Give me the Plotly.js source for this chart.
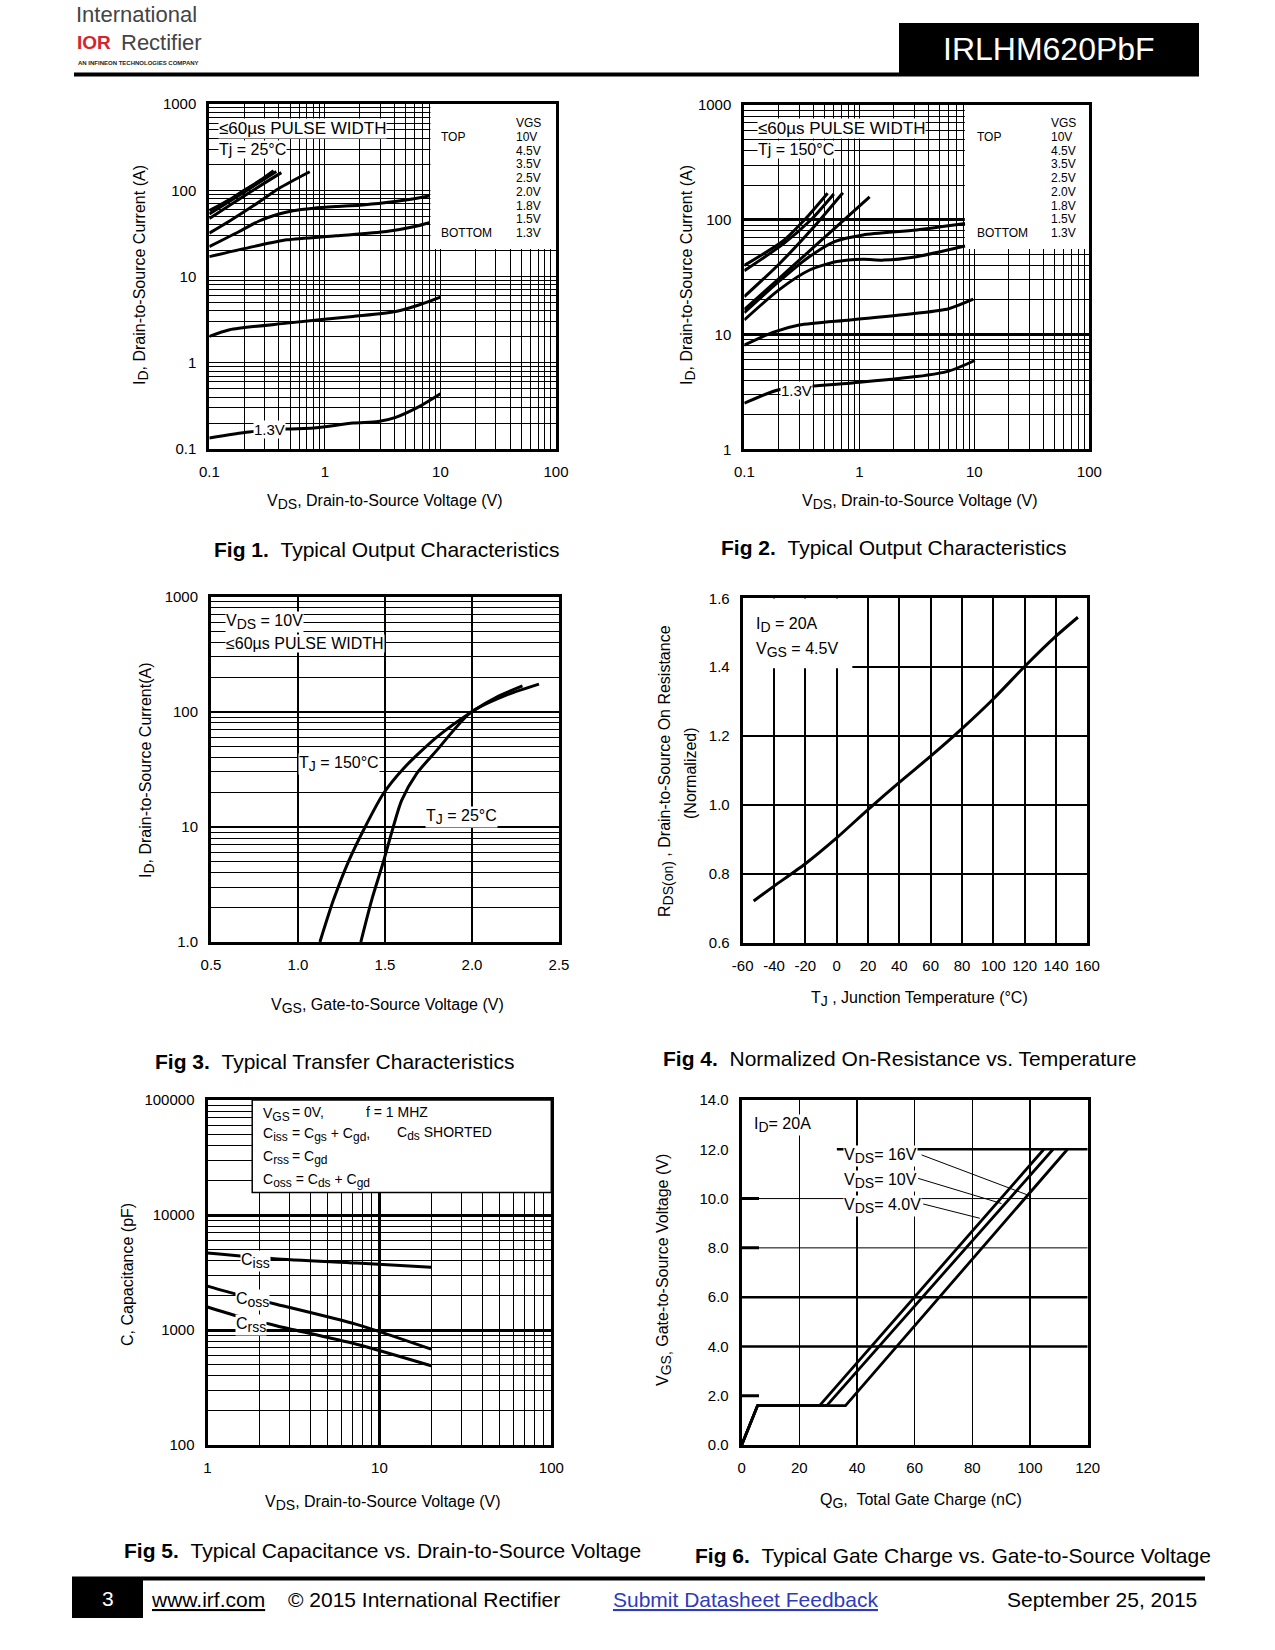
<!DOCTYPE html>
<html><head><meta charset="utf-8">
<script src="https://cdn.plot.ly/plotly-3.0.1.min.js"></script>
<style>html,body{margin:0;padding:0;background:#fff}#chart{width:1275px;height:1650px}</style>
</head><body><div id="chart"></div><script>
// ---------------- DATA ----------------
// Fig 1  Typical Output Characteristics, Tj = 25°C
const fig1_vds_10v = [0.1,0.15,0.2,0.28,0.36];
const fig1_id_10v  = [58,78,100,132,168];
const fig1_vds_4v5 = [0.1,0.2,0.38];
const fig1_id_4v5  = [53,95,165];
const fig1_vds_3v5 = [0.1,0.2,0.42];
const fig1_id_3v5  = [47,86,160];
const fig1_vds_2v5 = [0.1,0.15,0.24,0.4,0.74];
const fig1_id_2v5  = [31.8,44,66,105,164];
const fig1_vds_2v0 = [0.1,0.18,0.27,0.4,0.53,0.8,1.25,2,3.4,5,8];
const fig1_id_2v0  = [22.2,33,44,53,58,62,64.7,67,72,77,86];
const fig1_vds_1v8 = [0.1,0.24,0.47,1.25,3.4,6,8];
const fig1_id_1v8  = [17,22.2,26.6,29.6,33.2,38,42];
const fig1_vds_1v5 = [0.1,0.15,0.47,1.75,4.1,6.6,10];
const fig1_id_1v5  = [2.02,2.41,2.88,3.44,3.93,4.7,5.77];
const fig1_vds_1v3 = [0.1,0.22,0.47,0.8,1.75,2.9,4.1,6.6,10];
const fig1_id_1v3  = [0.134,0.157,0.17,0.175,0.2,0.208,0.233,0.312,0.437];
// Fig 2  Typical Output Characteristics, Tj = 150°C
const fig2_vds_10v = [0.1,0.22,0.35,0.53];
const fig2_id_10v  = [40,66,105,170];
const fig2_vds_4v5 = [0.1,0.22,0.38,0.6];
const fig2_id_4v5  = [36,62,100,168];
const fig2_vds_3v5 = [0.1,0.2,0.4,0.72];
const fig2_id_3v5  = [21.4,41,86,172];
const fig2_vds_2v5 = [0.1,0.2,0.35,0.6,1.23];
const fig2_id_2v5  = [16.5,30.7,51,83,158];
const fig2_vds_2v0 = [0.1,0.2,0.35,0.61,1.08,3.15,8.3];
const fig2_id_2v0  = [15.5,29,46,64.6,73.8,81.5,92.7];
const fig2_vds_1v8 = [0.1,0.2,0.37,0.64,1.08,1.62,3.15,8.3];
const fig2_id_1v8  = [13.4,24.5,36.5,43.3,45.3,44.5,47.7,59];
const fig2_vds_1v5 = [0.1,0.18,0.3,0.83,3.15,6,9.8];
const fig2_id_1v5  = [8.1,10.5,12.1,13.4,15.3,16.8,20.3];
const fig2_vds_1v3 = [0.1,0.2,0.83,3.15,6,10.1];
const fig2_id_1v3  = [2.52,3.3,3.77,4.3,4.8,5.94];
// Legend of Fig 1 / Fig 2
const vgs_legend = ['10V','4.5V','3.5V','2.5V','2.0V','1.8V','1.5V','1.3V'];
// Fig 3  Typical Transfer Characteristics
const fig3_vgs_150 = [1.126,1.203,1.29,1.385,1.49,1.604,1.796,1.993,2.15,2.29];
const fig3_id_150  = [1,2.3,5.0,9.94,19.4,31.9,60,98.8,136,168];
const fig3_vgs_25  = [1.361,1.423,1.49,1.547,1.595,1.681,1.796,1.993,2.2,2.385];
const fig3_id_25   = [1,2.3,4.94,9.94,16.9,28.9,46,98.8,140,174];
// Fig 4  Normalized On-Resistance vs. Temperature
const fig4_tj   = [-53,-40,-20,0,20,40,60,80,100,120,140,154];
const fig4_rdson= [0.722,0.765,0.83,0.905,0.987,1.066,1.142,1.222,1.308,1.402,1.49,1.545];
// Fig 5  Typical Capacitance vs. VDS
const fig5_vds_ciss = [1,2.43,7.36,20];
const fig5_ciss     = [4670,4170,3820,3510];
const fig5_vds_coss = [1,1.49,2.54,7.36,20];
const fig5_coss     = [2405,2036,1669,1119,681];
const fig5_vds_crss = [1,1.49,2.54,7.36,20];
const fig5_crss     = [1585,1324,1085,752,489];
// Fig 6  Typical Gate Charge vs. VGS
const fig6_qg_4v  = [0,5.5,27,104.8];
const fig6_vgs_4v = [0,1.6,1.6,12];
const fig6_qg_10v = [0,5.5,29.5,108];
const fig6_vgs_10v= [0,1.6,1.6,12];
const fig6_qg_16v = [0,5.5,36,113];
const fig6_vgs_16v= [0,1.6,1.6,12];
// Tick labels
const ticks_vds_log   = [0.1,1,10,100];
const ticks_vds_txt   = ['0.1','1','10','100'];
const ticks_id1       = [0.1,1,10,100,1000];
const ticks_id1_txt   = ['0.1','1','10','100','1000'];
const ticks_id2       = [1,10,100,1000];
const ticks_id2_txt   = ['1','10','100','1000'];
const ticks_vgs3      = [0.5,1.0,1.5,2.0,2.5];
const ticks_vgs3_txt  = ['0.5','1.0','1.5','2.0','2.5'];
const ticks_id3       = [1,10,100,1000];
const ticks_id3_txt   = ['1.0','10','100','1000'];
const ticks_tj        = [-60,-40,-20,0,20,40,60,80,100,120,140,160];
const ticks_tj_txt    = ['-60','-40','-20','0','20','40','60','80','100','120','140','160'];
const ticks_r         = [0.6,0.8,1.0,1.2,1.4,1.6];
const ticks_r_txt     = ['0.6','0.8','1.0','1.2','1.4','1.6'];
const ticks_vds5      = [1,10,100];
const ticks_vds5_txt  = ['1','10','100'];
const ticks_c         = [100,1000,10000,100000];
const ticks_c_txt     = ['100','1000','10000','100000'];
const ticks_qg        = [0,20,40,60,80,100,120];
const ticks_qg_txt    = ['0','20','40','60','80','100','120'];
const ticks_v6        = [0,2,4,6,8,10,12,14];
const ticks_v6_txt    = ['0.0','2.0','4.0','6.0','8.0','10.0','12.0','14.0'];

// ---------------- HELPERS ----------------
const W=1275, H=1650;
const px = x => x/W, py = y => 1 - y/H;
const FONT = '"Liberation Sans", Arial, Helvetica, sans-serif';

function minorLog(e0,e1){ const v=[]; for(let e=e0;e<e1;e++) for(let m=2;m<=9;m++) v.push(m*Math.pow(10,e)); return v; }
const base = {showline:true, linecolor:'#000', linewidth:3, mirror:true, ticks:'', zeroline:false,
  showgrid:true, gridcolor:'#000', gridwidth:1, tickfont:{family:FONT,size:15,color:'#000'},
  fixedrange:true, ticklabelstandoff:7, tickmode:'array'};
function ax(o){ return Object.assign({}, base, o); }
function mgrid(e0,e1,w){ return {tickmode:'array', tickvals:minorLog(e0,e1), showgrid:true, gridcolor:'#000', gridwidth:w||1, ticks:''}; }
// larger subscript than plotly's default 70%
const sb = (t,s) => '<sub><span style="font-size:'+(s||13)+'px">'+t+'</span></sub>';

const traces=[];
function line(xs, ys, n, w, shape){
  traces.push({type:'scatter', mode:'lines', x:xs, y:ys, xaxis:'x'+(n>1?n:''), yaxis:'y'+(n>1?n:''),
    line:{color:'#000', width:w||3, shape:shape||'spline', smoothing:0.7}, hoverinfo:'skip', showlegend:false});
}
// Fig 1
line(fig1_vds_10v,fig1_id_10v,1); line(fig1_vds_4v5,fig1_id_4v5,1); line(fig1_vds_3v5,fig1_id_3v5,1);
line(fig1_vds_2v5,fig1_id_2v5,1); line(fig1_vds_2v0,fig1_id_2v0,1); line(fig1_vds_1v8,fig1_id_1v8,1);
line(fig1_vds_1v5,fig1_id_1v5,1); line(fig1_vds_1v3,fig1_id_1v3,1);
// Fig 2
line(fig2_vds_10v,fig2_id_10v,2); line(fig2_vds_4v5,fig2_id_4v5,2); line(fig2_vds_3v5,fig2_id_3v5,2);
line(fig2_vds_2v5,fig2_id_2v5,2); line(fig2_vds_2v0,fig2_id_2v0,2); line(fig2_vds_1v8,fig2_id_1v8,2);
line(fig2_vds_1v5,fig2_id_1v5,2); line(fig2_vds_1v3,fig2_id_1v3,2);
// Fig 3
line(fig3_vgs_150,fig3_id_150,3); line(fig3_vgs_25,fig3_id_25,3);
// Fig 4
line(fig4_tj,fig4_rdson,4);
// Fig 5
line(fig5_vds_ciss,fig5_ciss,5); line(fig5_vds_coss,fig5_coss,5); line(fig5_vds_crss,fig5_crss,5);
// Fig 6
line(fig6_qg_4v,fig6_vgs_4v,6,2.8,'linear'); line(fig6_qg_10v,fig6_vgs_10v,6,2.8,'linear'); line(fig6_qg_16v,fig6_vgs_16v,6,2.8,'linear');

// ---------------- ANNOTATIONS ----------------
const A=[];
function ann(text,x,y,o){ A.push(Object.assign({xref:'paper',yref:'paper',x:px(x),y:py(y),text,showarrow:false,
  xanchor:'left',yanchor:'middle',font:{family:FONT,size:16,color:'#000'},borderpad:0}, o||{})); }
function f(size,extra){ return Object.assign({family:FONT,size,color:'#000'}, extra||{}); }

// Fig 1 texts
ann('≤60µs PULSE WIDTH',218,129,{font:f(17),bgcolor:'#fff'});
ann('Tj = 25°C',218,149.5,{font:f(16),bgcolor:'#fff'});
ann('1.3V',253,429.5,{font:f(15),bgcolor:'#fff'});
// Fig 2 texts
ann('≤60µs PULSE WIDTH',756.7,129,{font:f(17),bgcolor:'#fff'});
ann('Tj = 150°C',756.7,149.5,{font:f(16),bgcolor:'#fff'});
ann('1.3V',780,391,{font:f(15),bgcolor:'#fff'});
// legends fig1 / fig2
const legY=[136.7,150.7,164,177.7,191.7,205.7,219.3,232.7];
[[515,440],[1050,976]].forEach(([cx,lx])=>{
  ann('VGS',cx,123.3,{font:f(12)});
  ann('TOP',lx,136.7,{font:f(12)});
  ann('BOTTOM',lx,232.7,{font:f(12)});
  vgs_legend.forEach((t,i)=>ann(t,cx,legY[i],{font:f(12)}));
});
// Fig 3 texts
ann('V'+sb('DS',14)+' = 10V',225,622,{font:f(16),bgcolor:'#fff'});
ann('≤60µs PULSE WIDTH',225,643.3,{font:f(16),bgcolor:'#fff'});
ann('T'+sb('J',14)+' = 150°C',298.3,764,{font:f(16),bgcolor:'#fff'});
ann('T'+sb('J',14)+' = 25°C',425,817,{font:f(16),bgcolor:'#fff'});
// Fig 4 texts
ann('I'+sb('D',14)+' = 20A',755,625,{font:f(16)});
ann('V'+sb('GS',14)+' = 4.5V',755,650,{font:f(16)});
// Fig 5 texts
ann('V'+sb('GS',12),261.7,1114,{font:f(14)});
ann('= 0V,',291,1112,{font:f(14)});
ann('f = 1 MHZ',365,1112,{font:f(14)});
ann('C'+sb('iss',12),261.7,1134,{font:f(14)});
ann('= C'+sb('gs',12)+' + C'+sb('gd',12)+',',291,1134,{font:f(14)});
ann('C'+sb('ds',12)+' SHORTED',396,1133,{font:f(14)});
ann('C'+sb('rss',12),261.7,1157,{font:f(14)});
ann('= C'+sb('gd',12),291,1157,{font:f(14)});
ann('C'+sb('oss',12)+' = C'+sb('ds',12)+' + C'+sb('gd',12),261.7,1180,{font:f(14)});
ann('C'+sb('iss',14),240,1261,{font:f(16),bgcolor:'#fff'});
ann('C'+sb('oss',14),235,1300,{font:f(16),bgcolor:'#fff'});
ann('C'+sb('rss',14),235,1325,{font:f(16),bgcolor:'#fff'});
// Fig 6 texts
ann('I'+sb('D',14)+'= 20A',753,1125,{font:f(16),bgcolor:'#fff'});
ann('V'+sb('DS',14)+'= 16V',843,1156,{font:f(16),bgcolor:'#fff'});
ann('V'+sb('DS',14)+'= 10V',843,1181,{font:f(16),bgcolor:'#fff'});
ann('V'+sb('DS',14)+'= 4.0V',843,1206,{font:f(16),bgcolor:'#fff'});

// axis titles
ann('V'+sb('DS',14)+', Drain-to-Source Voltage (V)',385,502,{xanchor:'center',font:f(16)});
ann('V'+sb('DS',14)+', Drain-to-Source Voltage (V)',920,502,{xanchor:'center',font:f(16)});
ann('V'+sb('GS',14)+', Gate-to-Source Voltage (V)',387,1006,{xanchor:'center',font:f(16)});
ann('T'+sb('J',14)+' , Junction Temperature (°C)',919,999,{xanchor:'center',font:f(16)});
ann('V'+sb('DS',14)+', Drain-to-Source Voltage (V)',383,1503,{xanchor:'center',font:f(16)});
ann('Q'+sb('G',14)+',  Total Gate Charge (nC)',921,1501,{xanchor:'center',font:f(16)});
ann('I'+sb('D',14)+', Drain-to-Source Current (A)',141,275,{xanchor:'center',textangle:-90,font:f(16)});
ann('I'+sb('D',14)+', Drain-to-Source Current (A)',688,275,{xanchor:'center',textangle:-90,font:f(16)});
ann('I'+sb('D',14)+', Drain-to-Source Current(A)',147,770,{xanchor:'center',textangle:-90,font:f(16)});
ann('R'+sb('DS(on)',14)+' , Drain-to-Source On Resistance',666,771,{xanchor:'center',textangle:-90,font:f(16)});
ann('(Normalized)',690,773,{xanchor:'center',textangle:-90,font:f(16)});
ann('C, Capacitance (pF)',127,1275,{xanchor:'center',textangle:-90,font:f(16)});
ann('V'+sb('GS,',14)+' Gate-to-Source Voltage (V)',664,1270,{xanchor:'center',textangle:-90,font:f(16)});

// captions
ann('<b>Fig 1.</b>\u00A0\u00A0Typical Output Characteristics',213,550,{font:f(21)});
ann('<b>Fig 2.</b>\u00A0\u00A0Typical Output Characteristics',720,548,{font:f(21)});
ann('<b>Fig 3.</b>\u00A0\u00A0Typical Transfer Characteristics',154,1061,{font:f(21)});
ann('<b>Fig 4.</b>\u00A0\u00A0Normalized On-Resistance vs. Temperature',662,1058,{font:f(21)});
ann('<b>Fig 5.</b>\u00A0\u00A0Typical Capacitance vs. Drain-to-Source Voltage',123,1550,{font:f(21)});
ann('<b>Fig 6.</b>\u00A0\u00A0Typical Gate Charge vs. Gate-to-Source Voltage',694,1555,{font:f(21)});

// header & footer texts
ann('International',75,15,{font:{family:FONT,size:22,color:'#444'}});
ann('<b>IOR</b>',76,42,{font:{family:FONT,size:19,color:'#d3262c'}});
ann('Rectifier',120,42,{font:{family:FONT,size:22,color:'#444'}});
ann('<b>AN INFINEON TECHNOLOGIES COMPANY</b>',77,63.5,{font:{family:FONT,size:6,color:'#222'}});
ann('IRLHM620PbF',1049,49,{xanchor:'center',font:{family:FONT,size:32,color:'#fff'}});
ann('3',107.5,1598,{xanchor:'center',font:{family:FONT,size:21,color:'#fff'}});
ann('<u>www.irf.com</u>',150,1599,{font:f(21)});
ann('© 2015 International Rectifier',287,1599,{font:f(21)});
ann('<u>Submit Datasheet Feedback</u>',612,1599,{font:{family:FONT,size:21,color:'#2f3bbd'}});
ann('September 25, 2015',1198,1599,{xanchor:'right',font:f(21)});

// ---------------- SHAPES ----------------
const S=[];
function prect(x0,y0,x1,y1,fill){ S.push({type:'rect',xref:'paper',yref:'paper',x0:px(x0),x1:px(x1),y0:py(y1),y1:py(y0),fillcolor:fill,line:{width:0},layer:'above'}); }
prect(899,23,1199,76,'#000');
prect(74,72.5,1199,76.5,'#000');
prect(72,1576.5,1205,1580.5,'#000');
prect(72,1578,143,1618,'#000');
function drect(n,x0,x1,y0,y1,lineW){ S.push({type:'rect',xref:'x'+(n>1?n:''),yref:'y'+(n>1?n:''),x0,x1,y0,y1,fillcolor:'#fff',
  line:{width:lineW||0,color:'#000'},layer:'between'}); }
drect(1,8.2,100,20.9,1000);
drect(2,8.27,100,55.5,1000);
drect(4,-60,10,1.397,1.6);
drect(5,1.82,100,15700,100000,1.5);
function dline(n,x0,y0,x1,y1,w){ S.push({type:'line',xref:'x'+n,yref:'y'+n,x0,y0,x1,y1,line:{color:'#000',width:w},layer:'between'}); }
// Fig 6 horizontal grid
dline(6,33,12,120,12,2.5);
dline(6,0,10,120,10,1); dline(6,0,10,6,10,3);
dline(6,0,8,120,8,1); dline(6,0,8,6,8,3);
dline(6,0,6,120,6,2.5);
dline(6,0,4,120,4,2.5);
dline(6,0,2,6,2,3);
// Fig 6 pointer lines
dline(6,62.4,11.77,99.3,10.14,1);
dline(6,61.2,10.82,90.1,9.80,1);
dline(6,62.95,9.78,82.6,9.2,1);

// ---------------- LAYOUT ----------------
const layout={
  width:W,height:H,margin:{l:0,r:0,t:0,b:0},paper_bgcolor:'#fff',plot_bgcolor:'#fff',
  showlegend:false,hovermode:false,font:{family:FONT,color:'#000',size:15},
  xaxis: ax({domain:[px(209.3),px(556)],anchor:'y',type:'log',range:[-1,2],tickvals:ticks_vds_log,ticktext:ticks_vds_txt,minor:mgrid(-1,2)}),
  yaxis: ax({domain:[py(449),py(104)],anchor:'x',type:'log',range:[-1,3],tickvals:ticks_id1,ticktext:ticks_id1_txt,minor:mgrid(-1,3)}),
  xaxis2:ax({domain:[px(744.3),px(1089.3)],anchor:'y2',type:'log',range:[-1,2],tickvals:ticks_vds_log,ticktext:ticks_vds_txt,minor:mgrid(-1,2)}),
  yaxis2:ax({domain:[py(449.3),py(105)],anchor:'x2',type:'log',range:[0,3],tickvals:ticks_id2,ticktext:ticks_id2_txt,gridwidth:3,minor:mgrid(0,3)}),
  xaxis3:ax({domain:[px(211),px(559)],anchor:'y3',range:[0.5,2.5],tickvals:ticks_vgs3,ticktext:ticks_vgs3_txt,gridwidth:2}),
  yaxis3:ax({domain:[py(942),py(596.7)],anchor:'x3',type:'log',range:[0,3],tickvals:ticks_id3,ticktext:ticks_id3_txt,gridwidth:2.5,minor:mgrid(0,3)}),
  xaxis4:ax({domain:[px(742.7),px(1087.3)],anchor:'y4',range:[-60,160],tickvals:ticks_tj,ticktext:ticks_tj_txt,gridwidth:2}),
  yaxis4:ax({domain:[py(943),py(598.3)],anchor:'x4',range:[0.6,1.6],tickvals:ticks_r,ticktext:ticks_r_txt,gridwidth:2}),
  xaxis5:ax({domain:[px(207.5),px(551.3)],anchor:'y5',type:'log',range:[0,2],tickvals:ticks_vds5,ticktext:ticks_vds5_txt,gridwidth:2.5,minor:mgrid(0,2)}),
  yaxis5:ax({domain:[py(1445),py(1100)],anchor:'x5',type:'log',range:[2,5],tickvals:ticks_c,ticktext:ticks_c_txt,gridwidth:3,minor:mgrid(2,5)}),
  xaxis6:ax({domain:[px(741.7),px(1087.7)],anchor:'y6',range:[0,120],tickvals:ticks_qg,ticktext:ticks_qg_txt,gridwidth:1.2}),
  yaxis6:ax({domain:[py(1445),py(1100)],anchor:'x6',range:[0,14],tickvals:ticks_v6,ticktext:ticks_v6_txt,showgrid:false}),
  annotations:A, shapes:S
};
Plotly.newPlot('chart',traces,layout,{staticPlot:true,displayModeBar:false});
</script></body></html>
